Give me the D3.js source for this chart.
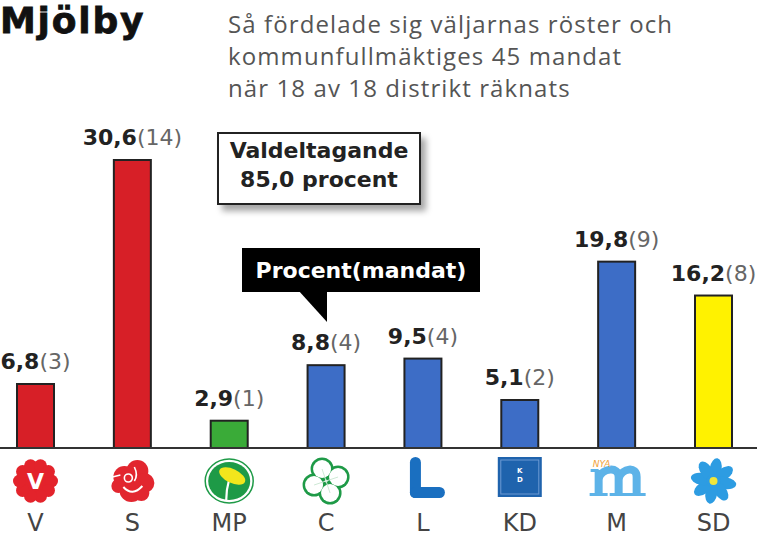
<!DOCTYPE html>
<html>
<head>
<meta charset="utf-8">
<script src="https://cdn.jsdelivr.net/npm/d3@7"></script>
<style>
  html, body { margin: 0; padding: 0; background: #fff; }
  svg { display: block; }
</style>
</head>
<body>
<div id="chart"></div>
<script>
// ---- Data ----
const parties = ["V", "S", "MP", "C", "L", "KD", "M", "SD"];
const percent = [6.8, 30.6, 2.9, 8.8, 9.5, 5.1, 19.8, 16.2];
const seats = [3, 14, 1, 4, 4, 2, 9, 8];
const titleText = "Mjölby";
const subtitleLines = [
  "Så fördelade sig väljarnas röster och",
  "kommunfullmäktiges 45 mandat",
  "när 18 av 18 distrikt räknats"
];
const turnoutLines = ["Valdeltagande", "85,0 procent"];
const calloutText = "Procent(mandat)";

// ---- Styles ----
const barColors = ["#d71f27", "#d71f27", "#3aab38", "#3d6dc6", "#3d6dc6", "#3d6dc6", "#3d6dc6", "#fff200"];
const W = 759, H = 551;

const data = parties.map((p, i) => ({ party: p, pct: percent[i], seats: seats[i] }));

const svg = d3.select("#chart").append("svg")
  .attr("width", W).attr("height", H)
  .attr("viewBox", `0 0 ${W} ${H}`);

const defs = svg.append("defs");
const f = defs.append("filter").attr("id", "shadow")
  .attr("x", "-20%").attr("y", "-20%").attr("width", "150%").attr("height", "160%");
f.append("feDropShadow").attr("dx", 5).attr("dy", 6).attr("stdDeviation", 3)
  .attr("flood-color", "#000").attr("flood-opacity", 0.35);

// ---- Scales ----
const x = d3.scalePoint().domain(parties).range([35.5, 713.5]);
const y = d3.scaleLinear().domain([0, 30.6]).range([448, 160]);
const color = d3.scaleOrdinal().domain(parties).range(barColors);
const barW = 37;

// ---- Title ----
svg.append("text")
  .attr("x", 0).attr("y", 33)
  .attr("font-family", "DejaVu Sans").attr("font-weight", "bold")
  .attr("font-size", 36).attr("letter-spacing", 1.8)
  .attr("fill", "#111").attr("stroke", "#111").attr("stroke-width", 0.8)
  .text(titleText);

svg.append("g").selectAll("text").data(subtitleLines).join("text")
  .attr("x", 228).attr("y", (d, i) => 33 + i * 32)
  .attr("font-family", "Open Sans").attr("font-size", 24)
  .attr("letter-spacing", 1.1)
  .attr("fill", "#555")
  .text(d => d);

// ---- Bars ----
svg.append("g").selectAll("rect").data(data).join("rect")
  .attr("x", d => x(d.party) - barW / 2)
  .attr("y", d => y(d.pct))
  .attr("width", barW)
  .attr("height", d => y(0) - y(d.pct))
  .attr("fill", d => color(d.party))
  .attr("stroke", "#222").attr("stroke-width", 2);

// baseline
svg.append("line")
  .attr("x1", 0).attr("x2", 757)
  .attr("y1", y(0)).attr("y2", y(0))
  .attr("stroke", "#333").attr("stroke-width", 2);

// ---- Value labels ----
const fmt = v => v.toFixed(1).replace(".", ",");
const lab = svg.append("g").selectAll("text").data(data).join("text")
  .attr("x", d => x(d.party))
  .attr("y", d => y(d.pct) - 15)
  .attr("text-anchor", "middle")
  .attr("font-family", "DejaVu Sans").attr("font-size", 22);
lab.append("tspan").attr("font-weight", "bold").attr("fill", "#222").text(d => fmt(d.pct));
lab.append("tspan").attr("fill", "#666").text(d => "(" + d.seats + ")");

// ---- Turnout box ----
const tb = svg.append("g");
tb.append("rect")
  .attr("x", 218).attr("y", 133).attr("width", 202).attr("height", 71)
  .attr("fill", "#fff").attr("stroke", "#222").attr("stroke-width", 2)
  .attr("filter", "url(#shadow)");
tb.selectAll("text").data(turnoutLines).join("text")
  .attr("x", 319).attr("y", (d, i) => 158 + i * 29)
  .attr("text-anchor", "middle")
  .attr("font-family", "DejaVu Sans").attr("font-weight", "bold")
  .attr("font-size", 22).attr("fill", "#222")
  .text(d => d);

// ---- Callout ----
const cg = svg.append("g");
cg.append("rect").attr("x", 242).attr("y", 248).attr("width", 238).attr("height", 44).attr("fill", "#000");
cg.append("path").attr("d", "M298,290 L327,290 L327,322 Z").attr("fill", "#000");
cg.append("text")
  .attr("x", 361).attr("y", 278).attr("text-anchor", "middle")
  .attr("font-family", "DejaVu Sans").attr("font-weight", "bold")
  .attr("font-size", 22).attr("fill", "#fff")
  .text(calloutText);

// ---- Category labels ----
svg.append("g").selectAll("text").data(parties).join("text")
  .attr("x", d => x(d)).attr("y", 531)
  .attr("text-anchor", "middle")
  .attr("font-family", "DejaVu Sans").attr("font-size", 24)
  .attr("fill", "#444")
  .text(d => d);

// ---- Party icons ----
const iconY = 481;
const icons = svg.append("g").selectAll("g").data(parties).join("g")
  .attr("transform", d => `translate(${x(d)},${iconY})`);

icons.each(function (p) {
  const g = d3.select(this);
  if (p === "V") {
    const red = "#e3232b";
    g.append("circle").attr("r", 17).attr("fill", red);
    d3.range(10).forEach(k => {
      const a = k / 10 * Math.PI * 2;
      g.append("circle").attr("cx", 16 * Math.cos(a)).attr("cy", 16 * Math.sin(a)).attr("r", 6.5).attr("fill", red);
    });
    g.append("text").attr("y", 8).attr("text-anchor", "middle")
      .attr("font-family", "DejaVu Sans").attr("font-weight", "bold")
      .attr("font-size", 22).attr("fill", "#fff").text("V");
  } else if (p === "S") {
    const red = "#e2262f";
    [[-8, -4, 11], [5, -10, 11], [12, 2, 10], [-1, 9, 12], [-14, 5, 7], [9, 12, 8]].forEach(c =>
      g.append("circle").attr("cx", c[0]).attr("cy", c[1]).attr("r", c[2]).attr("fill", red));
    g.append("path").attr("d", "M-9,6 Q0,16 10,5").attr("fill", "none").attr("stroke", "#fff").attr("stroke-width", 2);
    g.append("circle").attr("cx", -4).attr("cy", -3).attr("r", 4).attr("fill", "none").attr("stroke", "#fff").attr("stroke-width", 1.6);
    g.append("path").attr("d", "M2,-14 Q6,-6 2,0").attr("fill", "none").attr("stroke", "#fff").attr("stroke-width", 1.6);
    g.append("path").attr("d", "M-12,-6 L-20,-4").attr("fill", "none").attr("stroke", "#fff").attr("stroke-width", 1.6);
  } else if (p === "MP") {
    const green = "#1e9a47";
    g.append("ellipse").attr("rx", 24).attr("ry", 22).attr("fill", "#fff").attr("stroke", green).attr("stroke-width", 1.5);
    g.append("ellipse").attr("rx", 21).attr("ry", 19).attr("fill", green);
    g.append("path").attr("d", "M0,-2 Q-3,9 -3,19").attr("fill", "none").attr("stroke", "#fff").attr("stroke-width", 2.2);
    g.append("ellipse").attr("cx", 3).attr("cy", -5).attr("rx", 14).attr("ry", 7)
      .attr("transform", "rotate(25,3,-5)").attr("fill", "#f2e61c");
  } else if (p === "C") {
    const green = "#1e9a47";
    const leaves = [[-4, -12], [12, -4], [4, 12], [-12, 4]];
    leaves.forEach(c => g.append("circle").attr("cx", c[0]).attr("cy", c[1]).attr("r", 11.5).attr("fill", green));
    leaves.forEach(c => g.append("circle").attr("cx", c[0]).attr("cy", c[1]).attr("r", 9).attr("fill", "#fff"));
    g.append("path").attr("d", "M-4,-12 L4,12 M12,-4 L-12,4").attr("stroke", "#cfe9d6").attr("stroke-width", 1);
  } else if (p === "L") {
    const blue = "#1a6fc0";
    g.append("rect").attr("x", -13).attr("y", -24).attr("width", 11).attr("height", 41).attr("rx", 5.5).attr("fill", blue);
    g.append("rect").attr("x", -13).attr("y", 6).attr("width", 35).attr("height", 11).attr("rx", 5.5).attr("fill", blue);
  } else if (p === "KD") {
    g.append("rect").attr("x", -22).attr("y", -24).attr("width", 44).attr("height", 40).attr("fill", "#1f63ad");
    g.append("rect").attr("x", -19).attr("y", -21).attr("width", 38).attr("height", 34).attr("fill", "none")
      .attr("stroke", "#6d9ad3").attr("stroke-width", 1);
    g.append("text").attr("y", -8).attr("text-anchor", "middle").attr("font-family", "DejaVu Sans")
      .attr("font-size", 7).attr("font-weight", "bold").attr("fill", "#fff").text("K");
    g.append("text").attr("y", 1).attr("text-anchor", "middle").attr("font-family", "DejaVu Sans")
      .attr("font-size", 7).attr("font-weight", "bold").attr("fill", "#fff").text("D");
  } else if (p === "M") {
    const lb = "#5db3e8";
    const st = (d, w) => g.append("path").attr("d", d).attr("fill", "none").attr("stroke", lb).attr("stroke-width", w);
    st("M-18,-11 L-18,13", 8);
    st("M-18,-3 C-14,-13 2,-15 2,-4 L2,13", 8);
    st("M2,-3 C6,-13 20,-15 20,-4 L20,13", 8);
    st("M-27,13.5 H-9 M-7,13.5 H11 M11,13.5 H29 M-26,-10.5 H-18", 3);
    g.append("text").attr("x", -24).attr("y", -14)
      .attr("font-family", "DejaVu Sans").attr("font-style", "italic")
      .attr("font-size", 9).attr("fill", "#f2a23a").text("NYA");
  } else if (p === "SD") {
    const blue = "#2d9ce2";
    d3.range(8).forEach(k => {
      const a = k * 45 + 10;
      g.append("ellipse").attr("cx", 0).attr("cy", -12).attr("rx", 6).attr("ry", 11)
        .attr("transform", `rotate(${a})`).attr("fill", blue);
    });
    g.append("circle").attr("r", 7).attr("fill", blue);
    g.append("circle").attr("r", 4).attr("fill", "#f0e63a");
  }
});
</script>
</body>
</html>
